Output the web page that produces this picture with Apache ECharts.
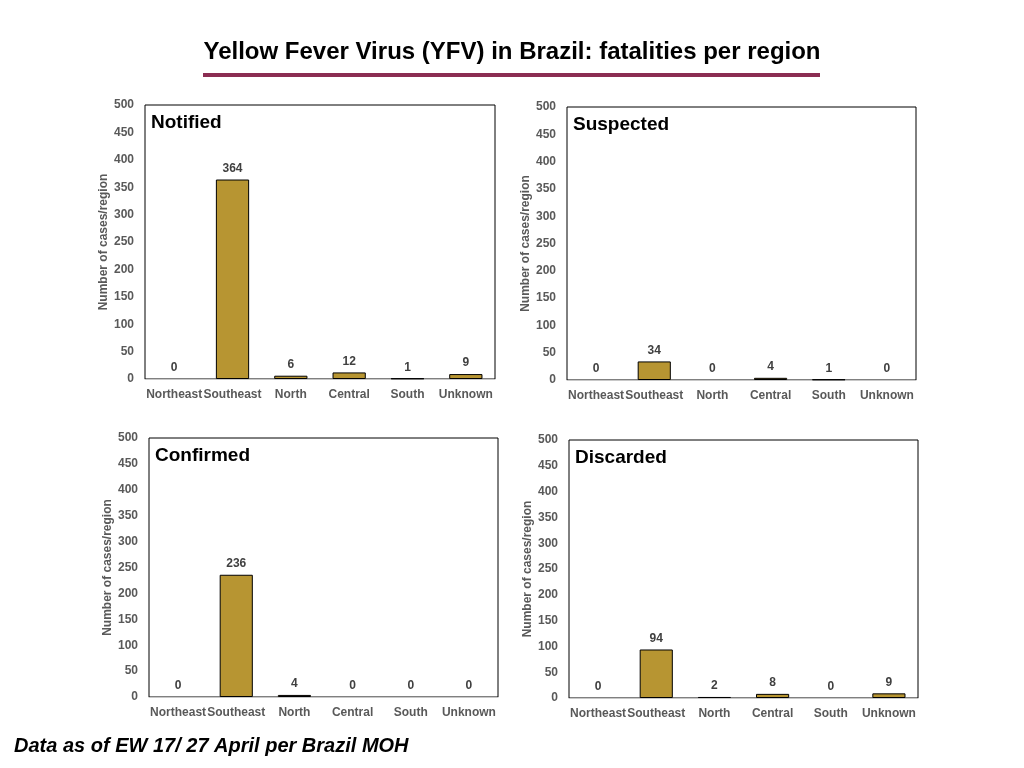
<!DOCTYPE html>
<html><head><meta charset="utf-8">
<script src="https://cdn.jsdelivr.net/npm/echarts@6/dist/echarts.min.js"></script>
<style>html,body{margin:0;padding:0;background:#fff;}#c{width:1024px;height:768px;}</style>
</head><body><div id="c"></div>
<script>
const regions = ['Northeast','Southeast','North','Central','South','Unknown'];
const panelTitles = ['Notified','Suspected','Confirmed','Discarded'];
const notified = [0,364,6,12,1,9];
const suspected = [0,34,0,4,1,0];
const confirmed = [0,236,4,0,0,0];
const discarded = [0,94,2,8,0,9];
const yTicks = {min:0, max:500, interval:50};
const mainTitle = 'Yellow Fever Virus (YFV) in Brazil: fatalities per region';
const footer = 'Data as of EW 17/ 27 April per Brazil MOH';
const yName = 'Number of cases/region';

const seriesData = [notified, suspected, confirmed, discarded];
const grids = [
  {left:145, top:105, width:350, height:274},
  {left:567, top:107, width:349, height:273},
  {left:149, top:438, width:349, height:259},
  {left:569, top:440, width:349, height:258}
];
const FONT = '"Liberation Sans", Arial, Helvetica, sans-serif';
const option = {
  animation:false,
  textStyle:{fontFamily:FONT},
  grid: grids.map(g=>Object.assign({show:true, borderColor:'#000', borderWidth:1, backgroundColor:'#fff'}, g)),
  xAxis: grids.map((g,i)=>({
    type:'category', gridIndex:i, data:regions,
    axisLine:{show:true, lineStyle:{color:'#c8c8c8', width:1}},
    axisTick:{show:false},
    axisLabel:{interval:0, color:'#595959', fontWeight:'bold', fontSize:12, margin:10, fontFamily:FONT}
  })),
  yAxis: grids.map((g,i)=>({
    type:'value', gridIndex:i, min:yTicks.min, max:yTicks.max, interval:yTicks.interval,
    splitLine:{show:false}, axisLine:{show:false}, axisTick:{show:false},
    axisLabel:{color:'#595959', fontWeight:'bold', fontSize:12, margin:11, fontFamily:FONT},
    name:yName, nameLocation:'middle', nameGap:34,
    nameTextStyle:{color:'#595959', fontWeight:'bold', fontSize:12, fontFamily:FONT}
  })),
  series: seriesData.map((d,i)=>({
    type:'bar', xAxisIndex:i, yAxisIndex:i, barWidth:'57%',
    data:d.map(v=>({value:v, itemStyle:{borderWidth: v===0 ? 0 : 1}})),
    itemStyle:{color:'#B79532', borderColor:'#000', borderWidth:1},
    label:{show:true, position:'top', distance:5, color:'#404040', fontWeight:'bold', fontSize:12, fontFamily:FONT}
  })),
  graphic: [
    {type:'text', left:'center', top:40, style:{text:mainTitle, font:'bold 24px '+FONT, fill:'#000'}},
    {type:'rect', shape:{x:203, y:73, width:617, height:4}, style:{fill:'#8B2D52'}},
    {type:'text', left:14, top:736, style:{text:footer, font:'italic bold 20px '+FONT, fill:'#000'}}
  ].concat(grids.map((g,i)=>({type:'text', left:g.left+6, top:g.top+8, z:100,
    style:{text:panelTitles[i], font:'bold 19px '+FONT, fill:'#000'}})))
};
echarts.init(document.getElementById('c')).setOption(option);
</script></body></html>
